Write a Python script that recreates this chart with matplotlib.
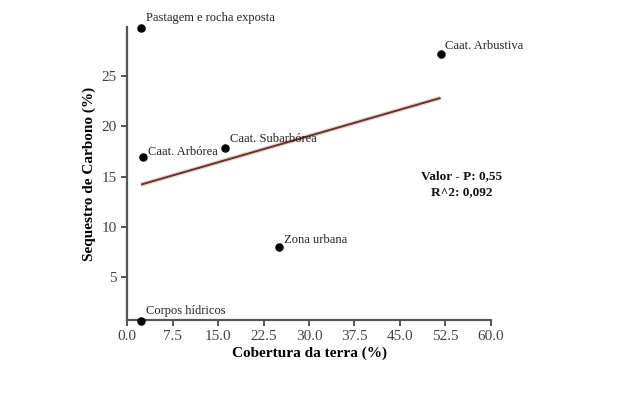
import numpy as np
import matplotlib
matplotlib.use("Agg")
import matplotlib.pyplot as plt

plt.rcParams['font.family'] = ['Liberation Serif', 'DejaVu Serif']

names = ["Pastagem e rocha exposta", "Caat. Arbustiva", "Caat. Arbórea",
         "Caat. Subarbórea", "Zona urbana", "Corpos hídricos"]
cobertura = [2.3, 51.7, 2.6, 16.1, 25.0, 2.3]
sequestro = [29.7, 27.1, 16.9, 17.8, 8.0, 0.7]
label_dy = [7, 6, 4, 7, 5, 7]
xticks = [0.0, 7.5, 15.0, 22.5, 30.0, 37.5, 45.0, 52.5, 60.0]
yticks = [5, 10, 15, 20, 25]

fig = plt.figure(figsize=(6.23, 3.93), dpi=100)
ax = fig.add_axes([0.204, 0.186, 0.584, 0.745])

x = np.array(cobertura)
y = np.array(sequestro)
a, b = np.polyfit(x, y, 1)
xs = np.array([x.min(), x.max()])
# faint glow then the dark line on top
ax.plot(xs, a * xs + b, color='#f6cdc6', lw=3.2, solid_capstyle='butt', zorder=2)
ax.plot(xs, a * xs + b, color='#5a3636', lw=1.4, solid_capstyle='butt', zorder=3)

ax.scatter(x, y, s=26, color='black', zorder=4, clip_on=False)
for name, xi, yi, dy in zip(names, cobertura, sequestro, label_dy):
    ax.annotate(name, (xi, yi), xytext=(3.5, dy), textcoords='offset points',
                fontsize=9, color='#222222', va='center', ha='left',
                annotation_clip=False)

ax.text(0.92, 0.49, "Valor - P: 0,55", transform=ax.transAxes, fontsize=9.5,
        fontweight='bold', ha='center', va='center', color='#111111')
ax.text(0.92, 0.438, "R^2: 0,092", transform=ax.transAxes, fontsize=9.5,
        fontweight='bold', ha='center', va='center', color='#111111')

ax.set_xlim(0, 60)
ax.set_ylim(0.8, 29.8)
ax.set_xticks(xticks)
ax.set_xticklabels([f"{t:.1f}" for t in xticks])
ax.set_yticks(yticks)

for side in ['top', 'right']:
    ax.spines[side].set_visible(False)
for side in ['left', 'bottom']:
    ax.spines[side].set_color('#555555')
    ax.spines[side].set_linewidth(1.6)
ax.tick_params(colors='#555555', width=1.4, length=4, labelsize=11,
               labelcolor='#444444')

ax.set_xlabel("Cobertura da terra (%)", fontsize=11, fontweight='bold', labelpad=2)
ax.set_ylabel("Sequestro de Carbono (%)", fontsize=11, fontweight='bold', labelpad=4)

fig.savefig("out.png", dpi=100)
